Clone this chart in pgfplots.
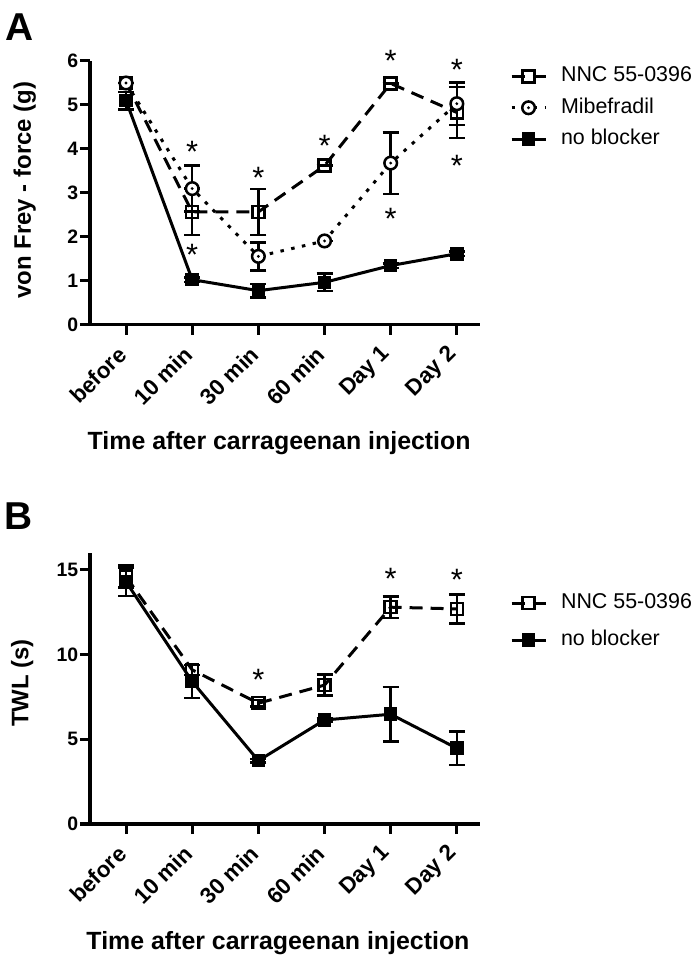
\documentclass[border=0pt]{standalone}
\usepackage{pgfplots}
\pgfplotsset{compat=1.18}
\usepackage{fontspec}
\setmainfont{Liberation Sans}
\pgfdeclareplotmark{odot}{%
  \pgfpathcircle{\pgfpointorigin}{\pgfplotmarksize}%
  \pgfusepathqfillstroke
  \pgfscope\pgfsetfillcolor{black}%
  \pgfpathcircle{\pgfpointorigin}{0.25\pgfplotmarksize}%
  \pgfusepathqfill\endpgfscope}
\tikzset{sig/.style={font=\fontsize{31}{31}\selectfont, anchor=base, yshift=-17.5bp, inner sep=0pt}}
\pgfplotsset{
  panel/.style={
    scale only axis, width=390bp,
    xmin=-0.545, xmax=5.35,
    axis x line=bottom, axis y line=left,
    axis line style={-, line width=3bp},
    xtick={0,...,5}, xticklabels={before,10 min,30 min,60 min,Day 1,Day 2},
    tick align=outside, major tick length=10bp,
    tick style={line width=3bp, black},
    minor tick num=0,
    xticklabel style={yshift=-15bp, xshift=-3bp, rotate=45, anchor=east, font=\bfseries\fontsize{22.5}{22.5}\selectfont, inner sep=1bp},
    yticklabel style={font=\bfseries\fontsize{19.5}{19.5}\selectfont, inner sep=1.5bp},
    /pgf/number format/assume math mode=true,
    xlabel={Time after carrageenan injection},
    xlabel style={font=\bfseries\fontsize{25}{25}\selectfont, anchor=center},
    ylabel style={font=\bfseries\fontsize{24}{24}\selectfont, anchor=center},
    clip=false,
    legend style={draw=none, fill=none, inner sep=0pt, outer sep=0pt,
      font=\fontsize{21.5}{21.5}\selectfont,
      nodes={inner sep=0pt, text height=16bp, text depth=5bp},
      /tikz/every odd column/.append style={column sep=14bp}},
    legend cell align=left,
    legend image code/.code={\draw[mark repeat=2,mark phase=2,#1] plot coordinates {(0bp,0bp) (17bp,0bp) (34bp,0bp)};},
    error bars/y dir=both, error bars/y explicit,
    error bars/error bar style={solid, line width=2.5bp},
    error bars/error mark options={rotate=90, mark size=8bp, line width=2.5bp, solid},
  },
  nnc/.style={black, line width=3bp, dash pattern=on 13bp off 8bp, mark=square, mark size=6bp, mark options={solid, fill=white, line width=2.5bp}},
  mib/.style={black, line width=3bp, dash pattern=on 3.5bp off 7.5bp, mark=odot, mark size=6.3bp, mark options={solid, fill=white, line width=2.5bp}},
  nob/.style={black, line width=3bp, solid, mark=square*, mark size=6.3bp, mark options={solid, fill=black, line width=1bp}},
}
\begin{document}
\begin{tikzpicture}
\path[use as bounding box] (0bp,0bp) rectangle (700bp,963bp);
\node[font=\bfseries\fontsize{39}{39}\selectfont, anchor=base] at (20bp,922bp) {A};
\node[font=\bfseries\fontsize{39}{39}\selectfont, anchor=base] at (19bp,433bp) {B};
% Panel A
\begin{axis}[panel, at={(90bp,638bp)}, anchor=south west, height=264bp,
  ymin=0, ymax=6, ytick={0,1,2,3,4,5,6},
  ylabel={von Frey - force (g)},
  ylabel style={at={(axis description cs:-0.167,0.511)}},
  xlabel style={at={(axis description cs:0.485,-0.447)}},
  legend style={at={(axis description cs:1.077,0.982)}, anchor=north west, row sep=10.5bp}]
\addplot[nnc] coordinates {(0,5.5) +- (0,0) (1,2.57) +- (0,0.53) (2,2.57) +- (0,0.52) (3,3.62) +- (0,0) (4,5.49) +- (0,0) (5,4.83) +- (0,0.58)};
\addlegendentry{NNC 55-0396}
\addplot[mib] coordinates {(0,5.5) +- (0,0) (1,3.1) +- (0,0.52) (2,1.56) +- (0,0.32) (3,1.91) +- (0,0) (4,3.68) +- (0,0.7) (5,5.03) +- (0,0.48)};
\addlegendentry{Mibefradil}
\addplot[nob] coordinates {(0,5.1) +- (0,0.2) (1,1.03) +- (0,0.05) (2,0.78) +- (0,0.15) (3,0.97) +- (0,0.2) (4,1.35) +- (0,0.05) (5,1.62) +- (0,0.05)};
\addlegendentry{no blocker}
\node[sig] at (axis cs:1,4.08) {*};
\node[sig] at (axis cs:1,1.74) {*};
\node[sig] at (axis cs:2,3.51) {*};
\node[sig] at (axis cs:3,4.23) {*};
\node[sig] at (axis cs:4,6.15) {*};
\node[sig] at (axis cs:4,2.57) {*};
\node[sig] at (axis cs:5,5.96) {*};
\node[sig] at (axis cs:5,3.77) {*};
\end{axis}
% Panel B
\begin{axis}[panel, at={(90bp,139bp)}, anchor=south west, height=271bp,
  ymin=0, ymax=16, ytick={0,5,10,15},
  ylabel={TWL (s)},
  ylabel style={at={(axis description cs:-0.174,0.52)}},
  xlabel style={at={(axis description cs:0.482,-0.439)}},
  legend style={at={(axis description cs:1.077,0.854)}, anchor=north west, row sep=16bp}]
\addplot[nnc] coordinates {(0,14.6) +- (0,0.65) (1,9.1) +- (0,0.3) (2,7.13) +- (0,0.2) (3,8.2) +- (0,0.62) (4,12.8) +- (0,0.64) (5,12.7) +- (0,0.85)};
\addlegendentry{NNC 55-0396}
\addplot[nob] coordinates {(0,14.3) +- (0,0.85) (1,8.41) +- (0,0.98) (2,3.74) +- (0,0.1) (3,6.14) +- (0,0.1) (4,6.48) +- (0,1.62) (5,4.47) +- (0,0.98)};
\addlegendentry{no blocker}
\node[sig] at (axis cs:2,8.9) {*};
\node[sig] at (axis cs:4,14.9) {*};
\node[sig] at (axis cs:5,14.8) {*};
\end{axis}
\end{tikzpicture}
\end{document}
